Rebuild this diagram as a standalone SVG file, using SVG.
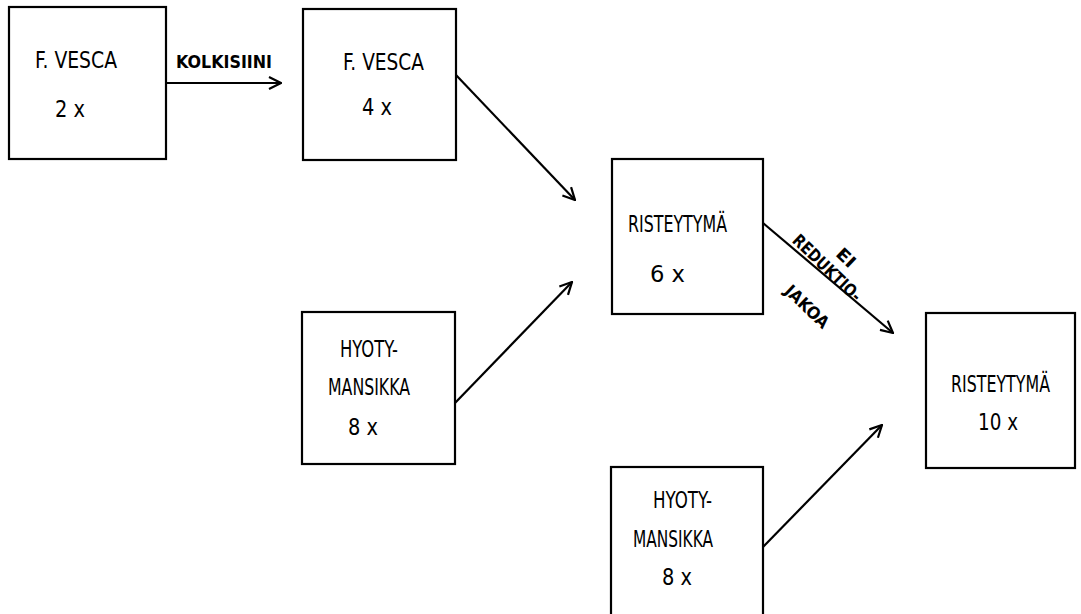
<svg xmlns="http://www.w3.org/2000/svg" width="1081" height="614" viewBox="0 0 1081 614">
<style>
.box{fill:#fff;stroke:#000;stroke-width:2.2}
.t{font-family:"DejaVu Sans Condensed","DejaVu Sans",sans-serif;font-size:23px;fill:#000}
.s{font-family:"DejaVu Sans Condensed","DejaVu Sans",sans-serif;font-size:17px;fill:#000;font-weight:bold}
.c{fill:none;stroke:#000;stroke-width:2.2}
</style>
<defs>
<marker id="ah" viewBox="0 0 14 14" refX="13" refY="7" markerWidth="14" markerHeight="14" markerUnits="userSpaceOnUse" orient="auto">
<path d="M1,1 L13,7 L1,13" fill="none" stroke="#000" stroke-width="2.2"/>
</marker>
</defs>
<rect width="1081" height="614" fill="#fff"/>
<g id="n1">
<rect class="box" x="9" y="7" width="157" height="152"/>
<text class="t" x="35" y="68" textLength="82" lengthAdjust="spacingAndGlyphs">F. VESCA</text>
<text class="t" x="55" y="117" textLength="30" lengthAdjust="spacingAndGlyphs">2 x</text>
</g>
<g id="n2">
<rect class="box" x="303" y="9" width="153" height="151"/>
<text class="t" x="343" y="70" textLength="81" lengthAdjust="spacingAndGlyphs">F. VESCA</text>
<text class="t" x="362" y="115" textLength="30" lengthAdjust="spacingAndGlyphs">4 x</text>
</g>
<g id="n3">
<rect class="box" x="612" y="159" width="151" height="155"/>
<text class="t" x="628" y="232" textLength="99" lengthAdjust="spacingAndGlyphs">RISTEYTYMÄ</text>
<text class="t" x="650" y="282" textLength="35" lengthAdjust="spacingAndGlyphs">6 x</text>
</g>
<g id="n4">
<rect class="box" x="302" y="312" width="153" height="152"/>
<text class="t" x="340" y="357" textLength="58" lengthAdjust="spacingAndGlyphs">HYOTY-</text>
<text class="t" x="328" y="395" textLength="82" lengthAdjust="spacingAndGlyphs">MANSIKKA</text>
<text class="t" x="348" y="435" textLength="30" lengthAdjust="spacingAndGlyphs">8 x</text>
</g>
<g id="n5">
<rect class="box" x="611" y="467" width="152" height="160"/>
<text class="t" x="653" y="508" textLength="59" lengthAdjust="spacingAndGlyphs">HYOTY-</text>
<text class="t" x="633" y="547" textLength="80" lengthAdjust="spacingAndGlyphs">MANSIKKA</text>
<text class="t" x="662" y="585" textLength="30" lengthAdjust="spacingAndGlyphs">8 x</text>
</g>
<g id="n6">
<rect class="box" x="926" y="313" width="149" height="155"/>
<text class="t" x="951" y="392" textLength="99" lengthAdjust="spacingAndGlyphs">RISTEYTYMÄ</text>
<text class="t" x="978" y="430" textLength="40" lengthAdjust="spacingAndGlyphs">10 x</text>
</g>
<g id="connectors">
<line class="c" x1="166" y1="83" x2="281" y2="83" marker-end="url(#ah)"/>
<text class="s" x="176" y="68" textLength="96" lengthAdjust="spacingAndGlyphs">KOLKISIINI</text>
<line class="c" x1="456" y1="75" x2="575" y2="200" marker-end="url(#ah)"/>
<line class="c" x1="455" y1="403" x2="572" y2="282" marker-end="url(#ah)"/>
<line class="c" x1="763" y1="223" x2="893" y2="333" marker-end="url(#ah)"/>
<line class="c" x1="763" y1="547" x2="882" y2="425" marker-end="url(#ah)"/>
<text class="s" x="842" y="262" text-anchor="middle" textLength="20" lengthAdjust="spacingAndGlyphs" transform="rotate(44 842 262)">EI</text>
<text class="s" x="823" y="272" text-anchor="middle" textLength="88" lengthAdjust="spacingAndGlyphs" transform="rotate(44 823 272)">REDUKTIO-</text>
<text class="s" x="803" y="311" text-anchor="middle" textLength="54" lengthAdjust="spacingAndGlyphs" transform="rotate(44 803 311)">JAKOA</text>
</g>
</svg>
